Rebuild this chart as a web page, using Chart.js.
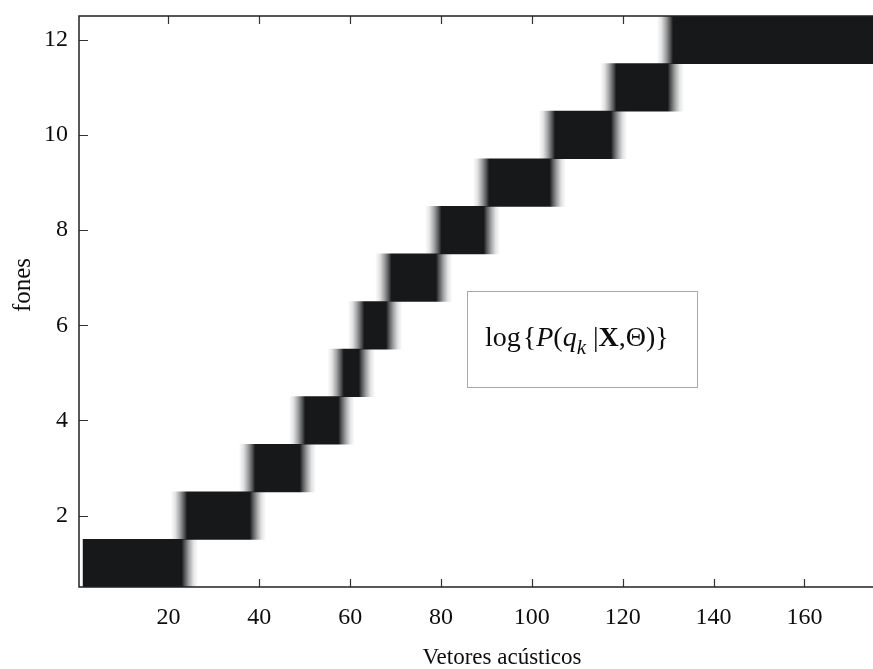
<!DOCTYPE html>
<html><head><meta charset="utf-8">
<script src="https://cdn.jsdelivr.net/npm/chart.js@4/dist/chart.umd.min.js"></script>
<style>html,body{margin:0;padding:0;background:#fff;overflow:hidden}#wrap{position:relative;width:873px;height:669px}</style>
</head><body><div id="wrap"><canvas id="c" width="873" height="669"></canvas></div>
<script>
// ---- data ----
const phones   = [1, 2, 3, 4, 5, 6, 7, 8, 9, 10, 11, 12];
const segStart = [1.2, 23.5, 38.5, 49.5, 58, 62.5, 68.5, 79.5, 90, 104.5, 118, 130.5];
const segEnd   = [23.5, 38.5, 49.5, 58, 62.5, 68.5, 79.5, 90, 104.5, 118, 130.5, 176];
const xTicks = [20, 40, 60, 80, 100, 120, 140, 160];
const yTicks = [2, 4, 6, 8, 10, 12];
const xTitle = 'Vetores acústicos';
const yTitle = 'fones';
const legendParts = [
  {t:'log', s:''}, {t:'{', s:'', gap:2}, {t:'P', s:'italic '}, {t:'(', s:''},
  {t:'q', s:'italic '}, {t:'k', s:'italic ', sub:true}, {t:' ', s:''}, {t:'|', s:''},
  {t:'X', s:'bold '}, {t:',', s:''}, {t:'\u0398', s:''}, {t:')', s:''}, {t:'}', s:''}
];

// ---- style ----
const HALO = 3;
const DARK = [22, 24, 26];
const SERIF = '"Liberation Serif", "DejaVu Serif", serif';
const TICK = 8;
const n = phones.length;
const lows  = segStart.map((s, i) => i > 0 ? s - HALO : s);
const highs = segEnd.map((e, i) => i < n - 1 ? e + HALO : e);

function rgba(a){ return `rgba(${DARK[0]},${DARK[1]},${DARK[2]},${a})`; }
function blockFill(c) {
  if (c.type !== 'data') return rgba(1);
  const chart = c.chart, xs = chart.scales.x;
  if (!xs || !chart.chartArea) return rgba(1);
  const i = c.dataIndex;
  const pLo = xs.getPixelForValue(lows[i]), pHi = xs.getPixelForValue(highs[i]);
  const span = pHi - pLo;
  const pos = v => Math.min(1, Math.max(0, (xs.getPixelForValue(v) - pLo) / span));
  const g = chart.ctx.createLinearGradient(pLo, 0, pHi, 0);
  const s = segStart[i], e = segEnd[i];
  if (i > 0) {
    g.addColorStop(0, rgba(0));
    g.addColorStop(pos(s - 2), rgba(0.12));
    g.addColorStop(pos(s - 1), rgba(0.4));
    g.addColorStop(pos(s), rgba(0.75));
    g.addColorStop(pos(s + 0.6), rgba(1));
  } else g.addColorStop(0, rgba(1));
  if (i < n - 1) {
    g.addColorStop(pos(e - 0.6), rgba(1));
    g.addColorStop(pos(e), rgba(0.75));
    g.addColorStop(pos(e + 1), rgba(0.4));
    g.addColorStop(pos(e + 2), rgba(0.12));
    g.addColorStop(1, rgba(0));
  } else g.addColorStop(1, rgba(1));
  return g;
}

const framePlugin = {
  id: 'frame',
  beforeDatasetsDraw(chart) {
    const {ctx, chartArea: a, scales: {x, y}} = chart;
    ctx.save();
    ctx.strokeStyle = '#333'; ctx.lineWidth = 1.2;
    ctx.beginPath();
    xTicks.forEach(v => {
      const px = Math.round(x.getPixelForValue(v)) + 0.5;
      ctx.moveTo(px, a.bottom); ctx.lineTo(px, a.bottom - TICK);
      ctx.moveTo(px, a.top); ctx.lineTo(px, a.top + TICK);
    });
    yTicks.forEach(v => {
      const py = Math.round(y.getPixelForValue(v)) + 0.5;
      ctx.moveTo(a.left, py); ctx.lineTo(a.left + TICK + 1, py);
    });
    ctx.stroke();
    ctx.restore();
  },
  afterDatasetsDraw(chart) {
    const {ctx, chartArea: a} = chart;
    ctx.save();
    // frame
    ctx.strokeStyle = '#222'; ctx.lineWidth = 1.5;
    ctx.beginPath();
    ctx.moveTo(a.right + 2, a.top); ctx.lineTo(a.left, a.top);
    ctx.lineTo(a.left, a.bottom); ctx.lineTo(a.right + 2, a.bottom);
    ctx.stroke();
    // legend box
    const bx = 467, by = 291, bw = 230, bh = 96;
    ctx.fillStyle = '#fff'; ctx.fillRect(bx, by, bw, bh);
    ctx.strokeStyle = '#a8a8a8'; ctx.lineWidth = 1;
    ctx.strokeRect(bx + 0.5, by + 0.5, bw, bh);
    ctx.fillStyle = '#0d0d0d'; ctx.textBaseline = 'alphabetic'; ctx.textAlign = 'left';
    let tx = 485; const base = 346, fs = 28;
    legendParts.forEach(p => {
      const size = p.sub ? Math.round(fs * 0.75) : fs;
      ctx.font = `${p.s}${size}px ${SERIF}`;
      tx += p.gap || 0;
      ctx.fillText(p.t, tx, p.sub ? base + 8 : base);
      tx += ctx.measureText(p.t).width;
    });
    // axis titles
    ctx.font = `23px ${SERIF}`; ctx.fillStyle = '#0d0d0d';
    ctx.textAlign = 'center'; ctx.textBaseline = 'middle';
    ctx.fillText(xTitle, 502, 658);
    ctx.translate(23, 285); ctx.rotate(-Math.PI / 2);
    ctx.font = `25px ${SERIF}`;
    ctx.fillText(yTitle, 0, 0);
    ctx.restore();
  }
};

new Chart(document.getElementById('c'), {
  type: 'bar',
  data: {
    datasets: [{
      data: phones.map((p, i) => ({x: [lows[i], highs[i]], y: p})),
      backgroundColor: blockFill,
      borderWidth: 0,
      barPercentage: 1,
      categoryPercentage: 1
    }]
  },
  options: {
    indexAxis: 'y',
    responsive: false,
    animation: false,
    events: [],
    layout: {padding: {top: 16, right: 0, left: 0, bottom: 0}},
    plugins: {legend: {display: false}, tooltip: {enabled: false}, title: {display: false}},
    scales: {
      x: {
        type: 'linear', min: 0.3, max: 175.1, offset: false,
        grid: {display: false, drawTicks: false}, border: {display: false},
        afterBuildTicks: s => { s.ticks = xTicks.map(v => ({value: v})); },
        afterFit: s => { s.height = 82; s.paddingLeft = 0; s.paddingRight = 0; },
        ticks: {color: '#0d0d0d', font: {family: SERIF, size: 24}, padding: 16, maxRotation: 0, autoSkip: false}
      },
      y: {
        type: 'linear', min: 0.5, max: 12.5, offset: false,
        grid: {display: false, drawTicks: false, offset: false}, border: {display: false},
        afterBuildTicks: s => { s.ticks = yTicks.map(v => ({value: v})); },
        afterFit: s => { s.width = 79; s.paddingTop = 0; s.paddingBottom = 0; },
        ticks: {color: '#0d0d0d', font: {family: SERIF, size: 24}, padding: 11, autoSkip: false}
      }
    }
  },
  plugins: [framePlugin]
});
</script>
</body></html>
